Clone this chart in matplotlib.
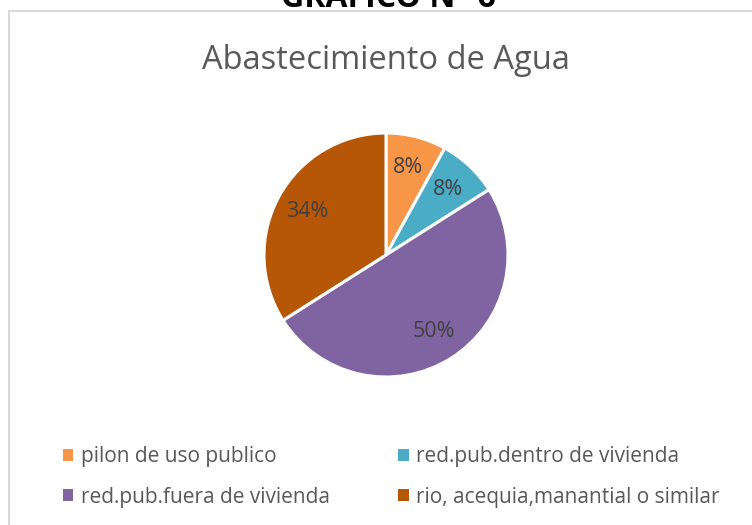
import matplotlib.pyplot as plt
from matplotlib.patches import Rectangle

# data
labels = ['pilon de uso publico', 'red.pub.dentro de vivienda',
          'red.pub.fuera de vivienda', 'rio, acequia,manantial o similar']
values = [8, 8, 50, 34]
colors = ['#F79646', '#4BACC6', '#8064A2', '#B65708']

W, H = 752, 525
fig = plt.figure(figsize=(W / 100, H / 100), dpi=100)
plt.rcParams['font.family'] = ['Open Sans', 'DejaVu Sans']

# chart border (light grey frame, cut at right/bottom)
fig.patches.append(Rectangle((8.5 / W, -0.1), 2, 1 - 11.5 / H + 0.1,
                             transform=fig.transFigure, fill=False,
                             edgecolor='#D9D9D9', linewidth=1.5))

# heading cut off by the page top
fig.text(388 / W, 1 - 7 / H, 'GRAFICO N° 6', ha='center', va='baseline',
         fontsize=23, fontweight='bold', color='black')

fig.text(386 / W, 1 - 69 / H, 'Abastecimiento de Agua', ha='center',
         va='baseline', fontsize=23.5, color='#595959')

# pie axes: centre (386, 255) px, radius 122 px
cx, cy, r = 386, 255, 122
ax = fig.add_axes([(cx - r) / W, (H - cy - r) / H, 2 * r / W, 2 * r / H])
wedges, texts, autotexts = ax.pie(
    values, colors=colors, startangle=90, counterclock=False,
    autopct='%1.0f%%', pctdistance=0.74,
    wedgeprops=dict(edgecolor='white', linewidth=2.2),
    textprops=dict(color='#404040', fontsize=15.5))
ax.set_xlim(-1, 1)
ax.set_ylim(-1, 1)
ax.set_aspect('equal')
ax.axis('off')
for w in wedges:
    w.set_clip_on(False)

# legend, filled row by row
order = [0, 2, 1, 3]
leg = fig.legend([wedges[i] for i in order], [labels[i] for i in order],
                 ncol=2, loc='upper left', bbox_to_anchor=(63 / W, 1 - 446 / H),
                 frameon=False, fontsize=15, labelcolor='#595959',
                 borderpad=0, borderaxespad=0,
                 handlelength=0.5, handleheight=0.5, handletextpad=0.35,
                 columnspacing=3.3, labelspacing=0.95)
for h in leg.legend_handles:
    h.set_edgecolor('none')

fig.savefig('out.png', dpi=100)
